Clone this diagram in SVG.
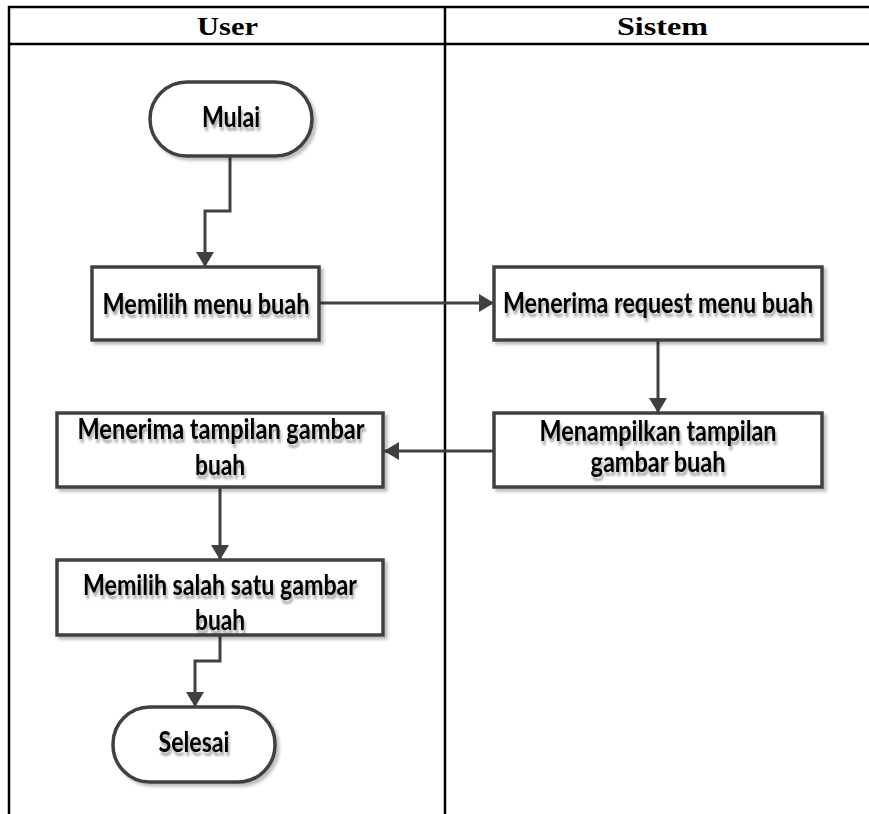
<svg xmlns="http://www.w3.org/2000/svg" width="869" height="814" viewBox="0 0 869 814">
<style>
.tbl{stroke:#000;stroke-width:2.5;fill:none}
.hdr{font-family:"Liberation Serif","DejaVu Serif",serif;font-weight:bold;font-size:26px;fill:#000}
.box{fill:#fff;stroke:#404040;stroke-width:3.5;filter:url(#bsh)}
.lbl{font-family:Lato,"Open Sans","Liberation Sans",sans-serif;font-weight:bold;font-size:29px;fill:#000;text-anchor:middle;filter:url(#tsh)}
.con{fill:none;stroke:#404040;stroke-width:3;marker-end:url(#ah)}
</style>
<defs>
<filter id="bsh" x="-10%" y="-10%" width="120%" height="130%">
<feDropShadow dx="3" dy="3" stdDeviation="1.5" flood-color="#000" flood-opacity="0.25"/>
</filter>
<filter id="tsh" x="-10%" y="-20%" width="120%" height="160%">
<feDropShadow dx="1.5" dy="4" stdDeviation="1" flood-color="#000" flood-opacity="0.35"/>
</filter>
<marker id="ah" markerUnits="userSpaceOnUse" markerWidth="16" markerHeight="20" refX="15" refY="9" orient="auto">
<path d="M0,0 L15,9 L0,18 z" fill="#404040"/>
</marker>
</defs>
<g id="table">
<line class="tbl" x1="8" y1="7" x2="869" y2="7"/>
<line class="tbl" x1="8" y1="44" x2="869" y2="44"/>
<line class="tbl" x1="9" y1="6" x2="9" y2="814"/>
<line class="tbl" x1="445" y1="6" x2="445" y2="814"/>
<text class="hdr" x="197" y="35" textLength="61" lengthAdjust="spacingAndGlyphs">User</text>
<text class="hdr" x="617" y="35" textLength="91" lengthAdjust="spacingAndGlyphs">Sistem</text>
</g>
<g id="connectors">
<path class="con" d="M230 156 V211 H205 V267"/>
<path class="con" d="M319 303 H494"/>
<path class="con" d="M658 340 V413"/>
<path class="con" d="M494 451 H384"/>
<path class="con" d="M220 487 V560"/>
<path class="con" d="M220 635 V661 H195 V707"/>
</g>
<g id="mulai">
<rect class="box" x="150" y="82" width="162" height="74" rx="37"/>
<text class="lbl" x="231" y="127" textLength="58" lengthAdjust="spacingAndGlyphs">Mulai</text>
</g>
<g id="memilih-menu">
<rect class="box" x="92" y="267" width="227" height="73"/>
<text class="lbl" x="206" y="314" textLength="207" lengthAdjust="spacingAndGlyphs">Memilih menu buah</text>
</g>
<g id="menerima-request">
<rect class="box" x="494" y="267" width="328" height="73"/>
<text class="lbl" x="658" y="313" textLength="310" lengthAdjust="spacingAndGlyphs">Menerima request menu buah</text>
</g>
<g id="menampilkan">
<rect class="box" x="494" y="413" width="328" height="74"/>
<text class="lbl" x="658" y="441" textLength="237" lengthAdjust="spacingAndGlyphs">Menampilkan tampilan</text>
<text class="lbl" x="658" y="472" textLength="135" lengthAdjust="spacingAndGlyphs">gambar buah</text>
</g>
<g id="menerima-tampilan">
<rect class="box" x="57" y="413" width="326" height="74"/>
<text class="lbl" x="221" y="439" textLength="287" lengthAdjust="spacingAndGlyphs">Menerima tampilan gambar</text>
<text class="lbl" x="220" y="475" textLength="50" lengthAdjust="spacingAndGlyphs">buah</text>
</g>
<g id="memilih-salah">
<rect class="box" x="57" y="560" width="326" height="75"/>
<text class="lbl" x="220" y="595" textLength="274" lengthAdjust="spacingAndGlyphs">Memilih salah satu gambar</text>
<text class="lbl" x="220" y="630" textLength="50" lengthAdjust="spacingAndGlyphs">buah</text>
</g>
<g id="selesai">
<rect class="box" x="113" y="707" width="162" height="75" rx="37"/>
<text class="lbl" x="194" y="752" textLength="71" lengthAdjust="spacingAndGlyphs">Selesai</text>
</g>
</svg>
